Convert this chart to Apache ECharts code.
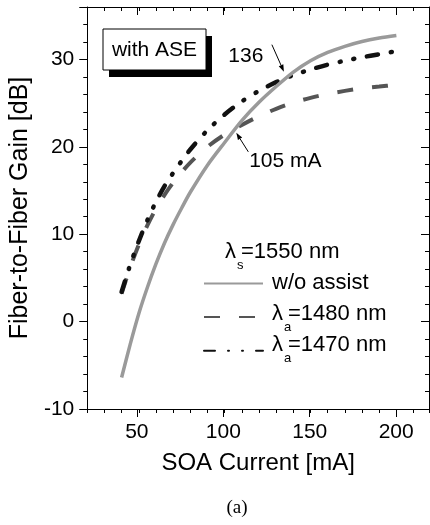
<!DOCTYPE html>
<html>
<head>
<meta charset="utf-8">
<script src="https://cdn.jsdelivr.net/npm/echarts@6/dist/echarts.min.js"></script>
<style>
    html, body { margin: 0; padding: 0; background: #fff; }
    #container { width: 430px; height: 525px; }
</style>
</head>
<body>
<div id="container"></div>
<script>
    // SOA current [mA]
    let currents = [40, 45, 50, 55, 60, 65, 70, 75, 80, 90, 100, 110, 120, 130, 140, 150, 160, 170, 180, 190, 200];
    // fiber-to-fiber gain [dB]
    let gainNoAssist = [-6.4, -2.6, 0.9, 3.9, 6.6, 9.0, 11.1, 13.0, 14.8, 17.9, 20.5, 23.0, 25.1, 26.9, 28.55, 29.85, 30.8, 31.5, 32.05, 32.45, 32.75];
    let gain1480 = [3.2, 6.2, 8.8, 11.0, 12.9, 14.5, 15.9, 17.1, 18.2, 20.0, 21.4, 22.5, 23.5, 24.35, 25.05, 25.6, 26.05, 26.4, 26.7, 26.9, 27.1];
    let gain1470 = [3.4, 6.5, 9.2, 11.6, 13.7, 15.5, 17.0, 18.4, 19.7, 21.9, 23.7, 25.2, 26.4, 27.4, 28.2, 28.85, 29.4, 29.85, 30.25, 30.6, 30.95];
    let seriesNames = ['w/o assist', 'λa=1480 nm', 'λa=1470 nm'];
    let xMajorTicks = [50, 100, 150, 200];
    let yTicks = [-10, 0, 10, 20, 30];
    // crossing points marked on the plot
    let note136 = [134.5, 28.6];
    let note105 = [106.8, 21.6];

    let font = 'Liberation Sans, Arial, sans-serif';

    function pairs(ys) {
        return currents.map(function (x, i) { return [x, ys[i]]; });
    }

    let dom = document.getElementById('container');
    let myChart = echarts.init(dom);

    let xMin = 20, xMax = 219;
    let axisBlack = { onZero: false, lineStyle: { color: '#000', width: 1 } };
    let noLine = { show: false, onZero: false };

    let option = {
        animation: false,
        backgroundColor: '#fff',
        grid: [
            { left: 85, right: 1, top: 7, bottom: 116 },
            // grid for the long ticks at 50..200, same scale as grid 0
            { left: 85 + 30 * 344 / 199, width: 150 * 344 / 199, top: 7, bottom: 116 }
        ],
        xAxis: [{
            gridIndex: 0, type: 'value', position: 'bottom',
            min: xMin, max: xMax, interval: 10,
            axisLine: axisBlack,
            axisTick: { show: true, inside: false, length: 4, lineStyle: { color: '#000' } },
            axisLabel: { show: false },
            splitLine: { show: false },
            name: 'SOA Current [mA]', nameLocation: 'middle', nameGap: 42,
            nameTextStyle: { fontSize: 24, fontFamily: font, color: '#000' }
        }, {
            gridIndex: 0, type: 'value', position: 'top',
            min: xMin, max: xMax, interval: 10,
            axisLine: axisBlack,
            axisTick: { show: true, inside: true, length: 4, lineStyle: { color: '#000' } },
            axisLabel: { show: false },
            splitLine: { show: false }
        }, {
            gridIndex: 1, type: 'value', position: 'bottom',
            min: xMajorTicks[0], max: xMajorTicks[xMajorTicks.length - 1], interval: 50,
            axisLine: noLine,
            axisTick: { show: true, inside: false, length: 8, lineStyle: { color: '#000' } },
            axisLabel: { fontSize: 21, fontFamily: font, color: '#000', margin: 13 },
            splitLine: { show: false }
        }, {
            gridIndex: 1, type: 'value', position: 'top',
            min: xMajorTicks[0], max: xMajorTicks[xMajorTicks.length - 1], interval: 50,
            axisLine: noLine,
            axisTick: { show: true, inside: true, length: 8, lineStyle: { color: '#000' } },
            axisLabel: { show: false },
            splitLine: { show: false }
        }],
        yAxis: [{
            gridIndex: 0, type: 'value', position: 'left',
            min: yTicks[0], max: 36, interval: 10,
            axisLine: axisBlack,
            axisTick: { show: true, inside: false, length: 8, lineStyle: { color: '#000' } },
            minorTick: { show: true, splitNumber: 5, length: 4, lineStyle: { color: '#000' } },
            axisLabel: { fontSize: 21, fontFamily: font, color: '#000', margin: 13, showMaxLabel: false },
            splitLine: { show: false },
            name: 'Fiber-to-Fiber Gain [dB]', nameLocation: 'middle', nameGap: 51,
            nameTextStyle: { fontSize: 25, fontFamily: font, color: '#000' }
        }, {
            gridIndex: 0, type: 'value', position: 'right',
            min: yTicks[0], max: 36, interval: 10,
            axisLine: axisBlack,
            axisTick: { show: true, inside: true, length: 8, lineStyle: { color: '#000' } },
            minorTick: { show: true, splitNumber: 5, length: 4, lineStyle: { color: '#000' } },
            axisLabel: { show: false },
            splitLine: { show: false }
        }, {
            gridIndex: 1, type: 'value', show: false, min: yTicks[0], max: 36,
            axisLine: noLine
        }],
        // only the line samples, texts are placed below as graphic
        legend: {
            data: seriesNames,
            orient: 'vertical',
            left: 198, top: 271.5,
            itemWidth: 59, itemHeight: 14, itemGap: 21,
            selectedMode: false,
            itemStyle: { opacity: 0 },
            formatter: function () { return ''; }
        },
        series: [{
            name: seriesNames[0], type: 'line', xAxisIndex: 0, yAxisIndex: 0,
            data: pairs(gainNoAssist), symbol: 'none', smooth: 0.3, z: 4,
            itemStyle: { color: '#9a9a9a' },
            lineStyle: { color: '#9a9a9a', width: 3.5 }
        }, {
            name: seriesNames[1], type: 'line', xAxisIndex: 0, yAxisIndex: 0,
            data: pairs(gain1480), symbol: 'none', smooth: 0.3, z: 3,
            itemStyle: { color: '#555' },
            lineStyle: { color: '#555', width: 4, type: [16, 19], cap: 'butt' }
        }, {
            name: seriesNames[2], type: 'line', xAxisIndex: 0, yAxisIndex: 0,
            data: pairs(gain1470), symbol: 'none', smooth: 0.3, z: 3,
            itemStyle: { color: '#111' },
            lineStyle: { color: '#111', width: 4.5, type: [11, 13, 1, 13, 1, 13], cap: 'round' }
        }]
    };
    myChart.setOption(option);

    // arrow from tail to the point (pixel), returns graphic elements
    function arrow(tip, dx, dy) {
        let tail = [tip[0] + dx, tip[1] + dy];
        let len = Math.sqrt(dx * dx + dy * dy);
        let ux = -dx / len, uy = -dy / len;
        let base = [tip[0] - 7 * ux, tip[1] - 7 * uy];
        return [{
            type: 'line',
            shape: { x1: tail[0], y1: tail[1], x2: base[0], y2: base[1] },
            style: { stroke: '#000', lineWidth: 1 }, z: 10
        }, {
            type: 'polygon',
            shape: { points: [tip, [base[0] - 2.5 * uy, base[1] + 2.5 * ux], [base[0] + 2.5 * uy, base[1] - 2.5 * ux]] },
            style: { fill: '#000' }, z: 10
        }];
    }

    function txt(str, x, y, size, align) {
        return {
            type: 'text', x: x, y: y, z: 12,
            style: { text: str, fontSize: size, fontFamily: font, fill: '#000', align: align || 'left', verticalAlign: 'middle' }
        };
    }

    // "λ" + subscript + rest, like λa=1480 nm
    function lambdaText(name, x, y) {
        return [
            txt('λ', x, y, 22),
            txt(name.charAt(1), x + 12, y + 13, 13),
            txt(name.substring(2), x + 16, y, 22)
        ];
    }

    function drawNotes() {
        let p136 = myChart.convertToPixel({ gridIndex: 0 }, note136);
        let p105 = myChart.convertToPixel({ gridIndex: 0 }, note105);
        let items = [
            // "with ASE" box with shadow
            { type: 'rect', shape: { x: 109, y: 36, width: 103, height: 41 }, style: { fill: '#000' }, z: 10 },
            { type: 'rect', shape: { x: 103, y: 29, width: 103, height: 41 }, style: { fill: '#fff', stroke: '#000', lineWidth: 1 }, z: 11 },
            txt('with ASE', 154.5, 50, 21, 'center'),
            txt('136', p136[0] - 38, p136[1] - 15, 21, 'center'),
            txt('105 mA', p105[0] + 49, p105[1] + 28, 21, 'center'),
            // legend texts
            txt(seriesNames[0], 272, 283, 22)
        ];
        items = items.concat(lambdaText('λs=1550 nm', 225, 252));
        items = items.concat(lambdaText(seriesNames[1], 272, 314));
        items = items.concat(lambdaText(seriesNames[2], 272, 345));
        // caption
        items.push({
            type: 'text', x: 237, y: 508, z: 12,
            style: { text: '(a)', fontSize: 19, fontFamily: 'Liberation Serif, Times New Roman, serif', fill: '#000', align: 'center', verticalAlign: 'middle' }
        });
        items = items.concat(arrow(p136, -12, -27)).concat(arrow(p105, 12, 19));
        myChart.setOption({ graphic: items });
    }
    drawNotes();
</script>
</body>
</html>
